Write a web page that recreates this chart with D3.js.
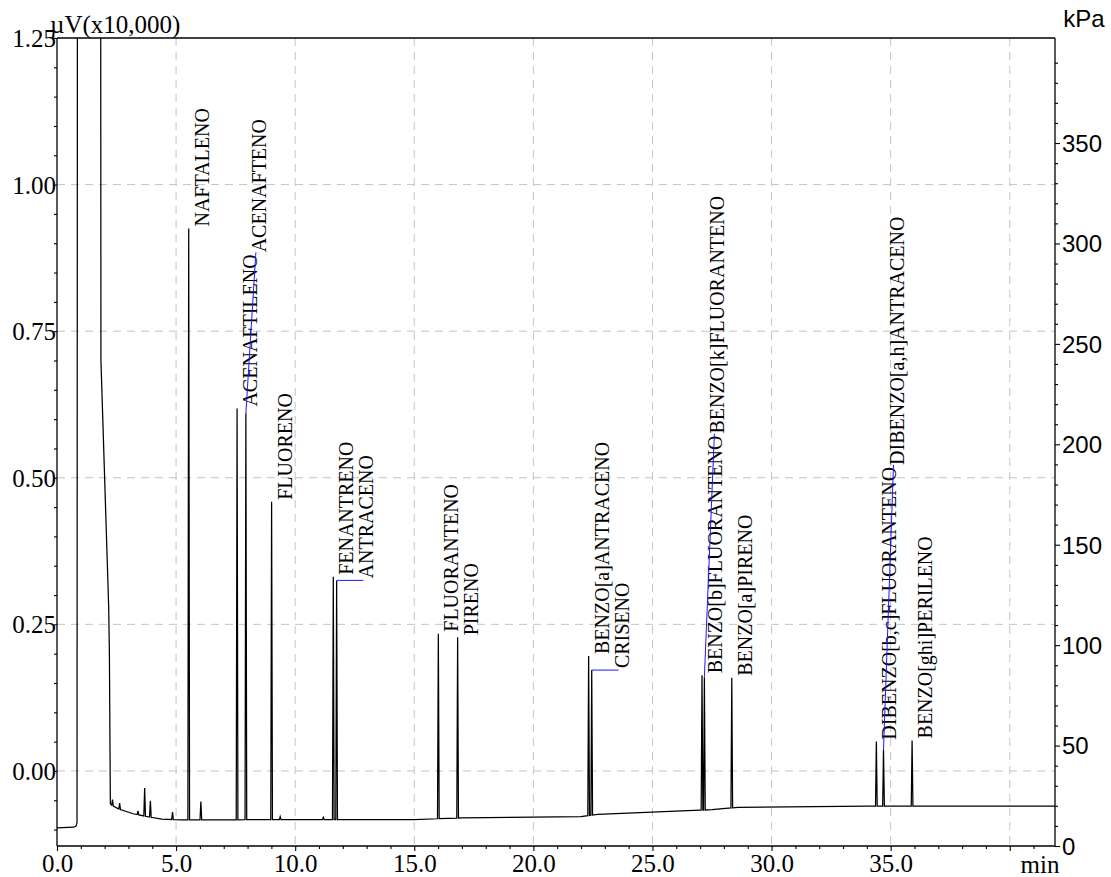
<!DOCTYPE html>
<html>
<head>
<meta charset="utf-8">
<script src="https://cdn.jsdelivr.net/npm/d3@7"></script>
<style>
  html, body { margin: 0; padding: 0; background: #ffffff; }
  svg { display: block; }
  .serif-text { font-family: "Liberation Serif", "Times New Roman", serif; }
  .sans-text { font-family: "Liberation Sans", Arial, sans-serif; }
</style>
</head>
<body>
<svg id="chart" width="1111" height="877"></svg>
<script>
// ---- axis ticks ----
const timeTicks = [0, 5, 10, 15, 20, 25, 30, 35, 40];
const timeTickLabels = ["0.0", "5.0", "10.0", "15.0", "20.0", "25.0", "30.0", "35.0", ""];
const signalTicks = [0, 0.25, 0.5, 0.75, 1.0, 1.25];
const signalTickLabels = ["0.00", "0.25", "0.50", "0.75", "1.00", "1.25"];
const pressureTicks = [0, 50, 100, 150, 200, 250, 300, 350];

// ---- detector trace (min, µV x10,000) ----
// solvent front, partly off scale
const solventTime   = [0.00, 0.70, 0.80, 0.84, 0.86, 1.83, 1.845, 2.17, 2.20, 2.24];
const solventSignal = [-0.097, -0.096, -0.094, -0.088, 1.60, 1.60, 0.70, 0.28, 0.20, -0.056];

// baseline drift after the solvent
const baselineTime   = [2.24, 2.60, 3.20, 3.80, 4.40, 5.20, 10.0, 15.0, 17.0, 22.0, 22.7, 27.0, 27.5, 28.6, 34.0, 36.5, 41.9];
const baselineSignal = [-0.057, -0.065, -0.073, -0.078, -0.082, -0.0835, -0.083, -0.083, -0.080, -0.078, -0.074, -0.067, -0.066, -0.062, -0.060, -0.060, -0.060];

// small unidentified peaks
const minorTime   = [2.33, 2.63, 3.40, 3.68, 3.92, 4.85, 6.04, 9.37, 11.18];
const minorSignal = [-0.049, -0.055, -0.068, -0.029, -0.051, -0.070, -0.052, -0.078, -0.079];

// identified PAHs
const compounds = [
  "NAFTALENO", "ACENAFTILENO", "ACENAFTENO", "FLUORENO", "FENANTRENO", "ANTRACENO",
  "FLUORANTENO", "PIRENO", "BENZO[a]ANTRACENO", "CRISENO", "BENZO[b]FLUORANTENO",
  "BENZO[k]FLUORANTENO", "BENZO[a]PIRENO", "DIBENZO[b,c]FLUORANTENO",
  "DIBENZO[a,h]ANTRACENO", "BENZO[ghi]PERILENO"
];
const compoundTime   = [5.53, 7.56, 7.93, 9.01, 11.60, 11.74, 16.01, 16.82, 22.32, 22.45, 27.08, 27.18, 28.33, 34.40, 34.70, 35.90];
const compoundSignal = [0.925, 0.618, 0.610, 0.459, 0.331, 0.325, 0.234, 0.228, 0.196, 0.172, 0.163, 0.160, 0.159, 0.050, 0.036, 0.052];

// how each peak name sits relative to the previous one
const labelPlacement = ["top", "top", "stack", "top", "top", "side", "top", "top", "top", "side",
                        "top", "stack", "top", "top", "stack", "top"];

// ---- layout ----
const plot = { left: 57, right: 1055, top: 38, bottom: 846 };

const svg = d3.select("#chart");
const x = d3.scaleLinear().domain([0, 41.9]).range([plot.left, plot.right]);
const y = d3.scaleLinear().domain([-0.128, 1.25]).range([plot.bottom, plot.top]);
const yP = d3.scaleLinear().domain([0, 402.3]).range([plot.bottom, plot.top]);

svg.append("defs").append("clipPath").attr("id", "plotClip")
  .append("rect")
  .attr("x", plot.left).attr("y", plot.top)
  .attr("width", plot.right - plot.left).attr("height", plot.bottom - plot.top);

// grid
const grid = svg.append("g").attr("stroke", "#c4c4c4").attr("stroke-width", 1)
  .attr("stroke-dasharray", "8,6").attr("fill", "none");
timeTicks.filter(t => t > 0).forEach(t => {
  grid.append("line").attr("x1", x(t)).attr("x2", x(t))
    .attr("y1", plot.top).attr("y2", plot.bottom);
});
signalTicks.filter(v => v < 1.25).forEach(v => {
  grid.append("line").attr("x1", plot.left).attr("x2", plot.right)
    .attr("y1", y(v)).attr("y2", y(v));
});

// ---- build the trace ----
const baseAt = d3.scaleLinear().domain(baselineTime).range(baselineSignal).clamp(true);
const halfWidth = 0.035;
const peaks = [];
minorTime.forEach((t, i) => peaks.push({ t, v: minorSignal[i] }));
compoundTime.forEach((t, i) => peaks.push({ t, v: compoundSignal[i] }));

const pts = [];
solventTime.forEach((t, i) => pts.push([t, solventSignal[i]]));
baselineTime.forEach((t, i) => {
  if (t <= solventTime[solventTime.length - 1]) return;
  if (peaks.some(p => Math.abs(p.t - t) <= halfWidth + 0.01)) return;
  pts.push([t, baselineSignal[i]]);
});
peaks.forEach(p => {
  pts.push([p.t - halfWidth, baseAt(p.t - halfWidth)]);
  pts.push([p.t, p.v]);
  pts.push([p.t + halfWidth, baseAt(p.t + halfWidth)]);
});
const solventPart = pts.slice(0, solventTime.length);
const rest = pts.slice(solventTime.length).sort((a, b) => a[0] - b[0]);
const trace = solventPart.concat(rest);

const line = d3.line().x(d => x(d[0])).y(d => y(d[1]));
svg.append("path")
  .attr("clip-path", "url(#plotClip)")
  .attr("d", line(trace))
  .attr("fill", "none")
  .attr("stroke", "#000")
  .attr("stroke-width", 1.25)
  .attr("stroke-linejoin", "miter");

// ---- axes ----
const frame = svg.append("g").attr("stroke", "#000").attr("stroke-width", 1.3).attr("fill", "none");
frame.append("line").attr("x1", plot.left).attr("x2", plot.right).attr("y1", plot.top).attr("y2", plot.top);
frame.append("line").attr("x1", plot.left).attr("x2", plot.right).attr("y1", plot.bottom).attr("y2", plot.bottom);
frame.append("line").attr("x1", plot.left).attr("x2", plot.left).attr("y1", plot.top).attr("y2", plot.bottom);
frame.append("line").attr("x1", plot.right).attr("x2", plot.right).attr("y1", plot.top).attr("y2", plot.bottom);

// x axis: minor ticks every minute, major every five
const xAxis = d3.axisBottom(x).tickValues(timeTicks)
  .tickFormat((d, i) => timeTickLabels[i]).tickSize(5).tickPadding(3);
const gx = svg.append("g").attr("transform", `translate(0,${plot.bottom})`).call(xAxis);
const xMinor = d3.axisBottom(x).tickValues(d3.range(0, 42, 1).filter(t => t % 5 !== 0))
  .tickFormat("").tickSize(3);
const gxm = svg.append("g").attr("transform", `translate(0,${plot.bottom})`).call(xMinor);

// left axis: minor ticks every 0.05
const yAxis = d3.axisLeft(y).tickValues(signalTicks)
  .tickFormat((d, i) => signalTickLabels[i]).tickSize(3).tickPadding(0);
const gy = svg.append("g").attr("transform", `translate(${plot.left},0)`).call(yAxis);
const yMinorValues = d3.range(-2, 25).map(k => +(k * 0.05).toFixed(2)).filter(v => !signalTicks.includes(v));
const yMinor = d3.axisLeft(y).tickValues(yMinorValues).tickFormat("").tickSize(3);
const gym = svg.append("g").attr("transform", `translate(${plot.left},0)`).call(yMinor);

// right axis: pressure
const pAxis = d3.axisRight(yP).tickValues(pressureTicks).tickFormat(d3.format("d")).tickSize(5).tickPadding(2);
const gp = svg.append("g").attr("transform", `translate(${plot.right},0)`).call(pAxis);
const pMinor = d3.axisRight(yP).tickValues(d3.range(10, 401, 10).filter(v => v % 50 !== 0)).tickFormat("").tickSize(3);
const gpm = svg.append("g").attr("transform", `translate(${plot.right},0)`).call(pMinor);

[gx, gxm, gy, gym, gp, gpm].forEach(g => {
  g.attr("font-family", null).attr("font-size", null);
  g.select(".domain").remove();
  g.selectAll(".tick line").attr("stroke", "#000").attr("stroke-width", 1.1);
});
gx.selectAll("text").attr("class", "serif-text").style("font-size", "25px").attr("fill", "#000");
gy.selectAll("text").attr("class", "serif-text").style("font-size", "25px").attr("fill", "#000")
  .attr("dy", "0.34em").attr("x", -1);
gp.selectAll("text").attr("class", "sans-text").style("font-size", "24px").attr("fill", "#000")
  .attr("dy", "0.35em");

// axis titles
svg.append("text").attr("class", "serif-text").attr("x", 50).attr("y", 33)
  .style("font-size", "25px").attr("fill", "#000")
  .text("µV(x10,000)");
svg.append("text").attr("class", "sans-text").attr("x", 1084).attr("y", 27).attr("text-anchor", "middle")
  .style("font-size", "24px").attr("fill", "#000")
  .text("kPa");
svg.append("text").attr("class", "serif-text").attr("x", 1040).attr("y", 873).attr("text-anchor", "middle")
  .style("font-size", "25px").attr("fill", "#000")
  .text("min");

// ---- peak names ----
const labelLayer = svg.append("g");
const leaderLayer = svg.append("g");
const FONT = 20, OFFSET = 20, GAP = 2;
let prev = null;
compounds.forEach((name, i) => {
  const px = x(compoundTime[i]);
  const py = y(compoundSignal[i]);
  let bx = px + OFFSET;
  let sy = py - GAP;
  const mode = labelPlacement[i];
  if (mode === "side" && prev) {
    bx = prev.bx + FONT;
  } else if (mode === "stack" && prev) {
    sy = prev.sy - prev.len - GAP;
  }
  const t = labelLayer.append("text")
    .attr("class", "serif-text")
    .attr("transform", `translate(${bx},${sy}) rotate(-90)`)
    .style("font-size", FONT + "px").attr("fill", "#000")
    .text(name);
  const len = t.node().getComputedTextLength();
  if (mode === "side" || mode === "stack") {
    leaderLayer.append("path")
      .attr("d", mode === "side"
        ? `M${px},${py}H${bx - 10}`
        : `M${px},${py}L${bx - 10},${sy}`)
      .attr("fill", "none").attr("stroke", "#1a1aff").attr("stroke-width", 1);
  }
  prev = { bx, sy, len };
});
</script>
</body>
</html>
